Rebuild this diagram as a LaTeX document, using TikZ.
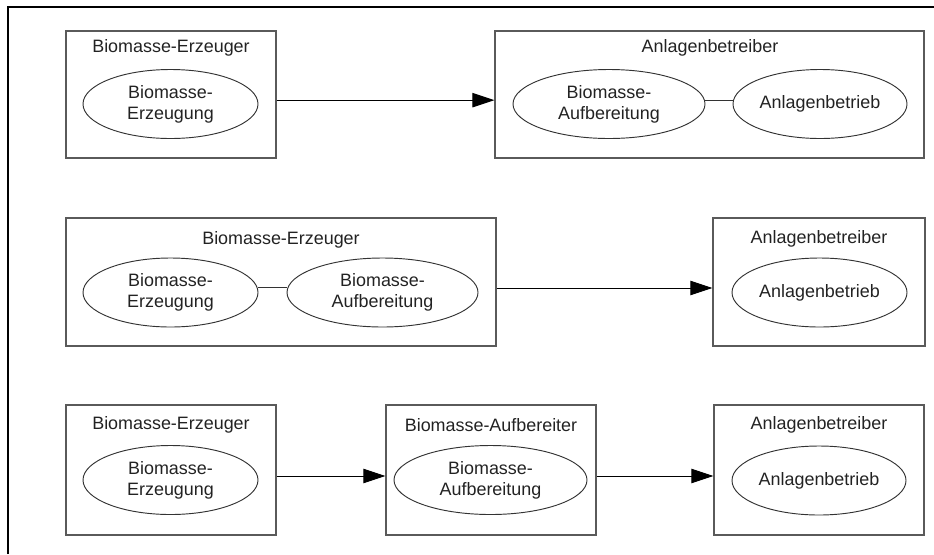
\documentclass[tikz,border=0pt]{standalone}
\usepackage{fontspec}
\setmainfont{Liberation Sans}
\usepackage{xcolor}
\usepackage{tikz}
\usetikzlibrary{
  arrows.meta,
  shapes.geometric
}
\definecolor{ink}{HTML}{222222}
\definecolor{boxline}{HTML}{5A5A5A}
\definecolor{ovalline}{HTML}{333333}
\tikzset{
  every node/.style={font=\fontsize{15.3}{18}\selectfont, text=ink},
  rolebox/.style={
    draw=boxline,
    line width=0.9pt,
    minimum width=6.3cm,
    minimum height=3.81cm,
    inner sep=0pt
  },
  roletitle/.style={
    align=center,
    inner sep=0pt
  },
  taskoval/.style={
    ellipse,
    draw=ovalline,
    line width=0.8pt,
    align=center,
    minimum width=5.25cm,
    minimum height=2.07cm,
    inner sep=0pt
  },
  flow/.style={-{Triangle[length=6.6mm,width=4.3mm]}, line width=0.8pt, draw=black},
  link/.style={line width=0.8pt, draw=ovalline},
}

\begin{document}
\begin{tikzpicture}[x=0.03cm, y=-0.03cm]

  \useasboundingbox (0,0) rectangle (934,554);

  % frame (cut at right and bottom)
  \draw[line width=2.4pt] (8,554) -- (8,7) -- (934,7);

  % =====================================================================
  % ROW 1 — Erzeuger | Anlagenbetreiber (Aufbereitung + Betrieb)
  % =====================================================================
  \node[rolebox] (Aerz) at (171, 94.5) {};
  \node[roletitle] (AerzT) at (171, 48) {Biomasse-Erzeuger};
  \node[taskoval] (AerzE) at (170.5, 104) {Biomasse-\\Erzeugung};

  \node[rolebox, minimum width=12.87cm] (Abet) at (709.5, 94.5) {};
  \node[roletitle] (AbetT) at (710, 48) {Anlagenbetreiber};
  \node[taskoval, minimum width=5.76cm] (AbetA) at (609, 104) {Biomasse-\\Aufbereitung};
  \node[taskoval, minimum width=5.22cm] (AbetB) at (820, 104) {Anlagenbetrieb};

  \draw[flow] ([yshift=-0.17cm]Aerz.east) -- ([yshift=-0.17cm]Abet.west);
  \draw[link] ([yshift=0.12cm]AbetA.east) -- ([yshift=0.12cm]AbetB.west);

  % =====================================================================
  % ROW 2 — Erzeuger (Erzeugung + Aufbereitung) | Anlagenbetreiber
  % =====================================================================
  \node[rolebox, minimum width=12.9cm, minimum height=3.84cm] (Berz) at (281, 282) {};
  \node[roletitle] (BerzT) at (281, 240) {Biomasse-Erzeuger};
  \node[taskoval] (BerzE) at (170.5, 292.5) {Biomasse-\\Erzeugung};
  \node[taskoval, minimum width=5.73cm] (BerzA) at (382.5, 292.5) {Biomasse-\\Aufbereitung};

  \node[rolebox, minimum width=6.36cm, minimum height=3.84cm] (Bbet) at (819, 282) {};
  \node[roletitle] (BbetT) at (819, 239) {Anlagenbetreiber};
  \node[taskoval] (BbetB) at (819.5, 292.5) {Anlagenbetrieb};

  \draw[link] ([yshift=0.16cm]BerzE.east) -- ([yshift=0.16cm]BerzA.west);
  \draw[flow] ([yshift=-0.18cm]Berz.east) -- ([yshift=-0.18cm]Bbet.west);

  % =====================================================================
  % ROW 3 — Erzeuger | Aufbereiter | Anlagenbetreiber
  % =====================================================================
  \node[rolebox, minimum height=3.9cm] (Cerz) at (171, 470) {};
  \node[roletitle] (CerzT) at (171, 425) {Biomasse-Erzeuger};
  \node[taskoval] (CerzE) at (170.5, 480) {Biomasse-\\Erzeugung};

  \node[rolebox, minimum height=3.9cm] (Cauf) at (491, 470) {};
  \node[roletitle] (CaufT) at (491, 425) {Biomasse-Aufbereiter};
  \node[taskoval, minimum width=5.79cm] (CaufA) at (490.5, 480) {Biomasse-\\Aufbereitung};

  \node[rolebox, minimum height=3.9cm] (Cbet) at (819, 470) {};
  \node[roletitle] (CbetT) at (819, 425) {Anlagenbetreiber};
  \node[taskoval, minimum width=5.22cm] (CbetB) at (819, 480.5) {Anlagenbetrieb};

  \draw[flow] ([yshift=-0.18cm]Cerz.east) -- ([yshift=-0.18cm]Cauf.west);
  \draw[flow] ([yshift=-0.18cm]Cauf.east) -- ([yshift=-0.18cm]Cbet.west);

\end{tikzpicture}
\end{document}
